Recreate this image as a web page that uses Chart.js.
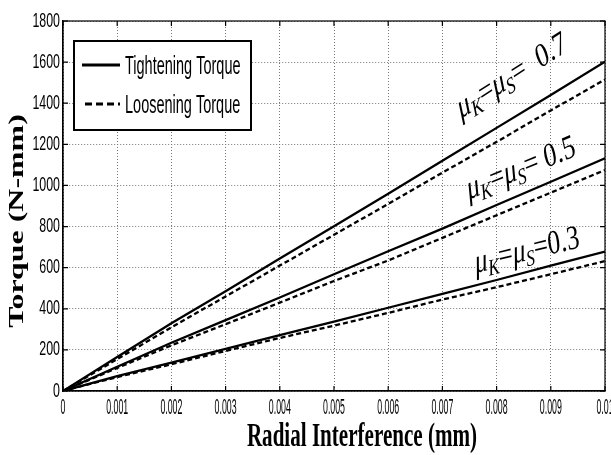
<!DOCTYPE html>
<html>
<head>
<meta charset="utf-8">
<script src="https://cdn.jsdelivr.net/npm/chart.js@4.4.1/dist/chart.umd.min.js"></script>
<style>
  html, body { margin: 0; padding: 0; background: #fff; overflow: hidden; }
  #wrap { width: 611px; height: 455px; }
</style>
</head>
<body>
<div id="wrap"><canvas id="torqueChart"></canvas></div>
<script>
/****************************** Data ********************************/
const interference = [0, 0.001, 0.002, 0.003, 0.004, 0.005, 0.006, 0.007, 0.008, 0.009, 0.010];

const tight07 = [0, 165, 330, 485, 645, 802, 960, 1120, 1280, 1440, 1602];
const loose07 = [0, 155, 310, 460, 610, 760, 910, 1062, 1212, 1365, 1515];
const tight05 = [0, 118, 235, 345, 455, 568, 680, 790, 905, 1018, 1132];
const loose05 = [0, 112, 222, 325, 430, 535, 635, 745, 855, 965, 1075];
const tight03 = [0, 72, 138, 205, 272, 338, 405, 472, 540, 610, 678];
const loose03 = [0, 68, 130, 195, 258, 318, 380, 445, 505, 568, 632];

const legendLabels = ['Tightening Torque', 'Loosening Torque'];
const frictionLabels = ['0.7', '0.5', '0.3'];
const xTitle = 'Radial Interference (mm)';
const yTitle = 'Torque (N-mm)';

const SANS = '"Liberation Sans", Arial, sans-serif';
const SERIF = '"Liberation Serif", "Times New Roman", serif';

function toPoints(ys) {
    return interference.map((x, i) => ({ x: x, y: ys[i] }));
}

function line(label, ys, dashed) {
    return {
        label: label,
        data: toPoints(ys),
        borderColor: '#000',
        borderWidth: 2.3,
        borderDash: dashed ? [5, 3] : [],
        pointRadius: 0,
        fill: false,
        tension: 0
    };
}

// the picture is squeezed sideways, so text is drawn narrow: sx = horizontal squeeze
function squeezedText(ctx, txt, x, y, font, sx, align, baseline) {
    ctx.save();
    ctx.translate(x, y);
    ctx.scale(sx, 1);
    ctx.font = font;
    ctx.fillStyle = '#000';
    ctx.textAlign = align;
    ctx.textBaseline = baseline;
    ctx.fillText(txt, 0, 0);
    ctx.restore();
}

/****************************** Frame, ticks and titles ********************************/
const frame = {
    id: 'frame',
    afterDraw(chart) {
        const ctx = chart.ctx;
        const a = chart.chartArea;
        const xs = chart.scales.x, ys = chart.scales.y;
        ctx.save();
        ctx.strokeStyle = '#000';
        ctx.lineWidth = 1.2;
        ctx.strokeRect(a.left, a.top, a.right - a.left, a.bottom - a.top);
        // inner tick marks on all four sides
        ctx.beginPath();
        xs.ticks.forEach(t => {
            const px = xs.getPixelForValue(t.value);
            ctx.moveTo(px, a.bottom); ctx.lineTo(px, a.bottom - 5);
            ctx.moveTo(px, a.top); ctx.lineTo(px, a.top + 5);
        });
        ys.ticks.forEach(t => {
            const py = ys.getPixelForValue(t.value);
            ctx.moveTo(a.left, py); ctx.lineTo(a.left + 5, py);
            ctx.moveTo(a.right, py); ctx.lineTo(a.right - 5, py);
        });
        ctx.stroke();
        ctx.restore();

        xs.ticks.forEach(t => {
            squeezedText(ctx, t.label, xs.getPixelForValue(t.value), a.bottom + 17,
                '22px ' + SANS, 0.4, 'center', 'middle');
        });
        ys.ticks.forEach(t => {
            squeezedText(ctx, t.label, a.left - 3, ys.getPixelForValue(t.value),
                '20px ' + SANS, 0.62, 'right', 'middle');
        });

        squeezedText(ctx, xTitle, (a.left + a.right) / 2 + 28, a.bottom + 46,
            'bold 34px ' + SERIF, 0.62, 'center', 'middle');
        ctx.save();
        ctx.translate(18, (a.top + a.bottom) / 2 + 15);
        ctx.rotate(-Math.PI / 2);
        ctx.scale(1.45, 0.95);
        ctx.font = 'bold 22px ' + SERIF;
        ctx.textAlign = 'center';
        ctx.textBaseline = 'middle';
        ctx.fillStyle = '#000';
        ctx.fillText(yTitle, 0, 0);
        ctx.restore();
    }
};

/****************************** Legend box ********************************/
const boxLegend = {
    id: 'boxLegend',
    afterDraw(chart) {
        const ctx = chart.ctx;
        const a = chart.chartArea;
        const x0 = a.left + 11, y0 = a.top + 20, w = 177, h = 89;
        ctx.save();
        ctx.fillStyle = '#fff';
        ctx.fillRect(x0, y0, w, h);
        ctx.strokeStyle = '#000';
        ctx.lineWidth = 2;
        ctx.strokeRect(x0, y0, w, h);
        legendLabels.forEach((txt, i) => {
            const y = y0 + 24 + i * 39;
            ctx.beginPath();
            ctx.lineWidth = 3;
            ctx.setLineDash(i === 0 ? [] : [7, 4]);
            ctx.moveTo(x0 + (i === 0 ? 8 : 11), y);
            ctx.lineTo(x0 + 46, y);
            ctx.stroke();
            ctx.setLineDash([]);
            squeezedText(ctx, txt, x0 + 51, y + 2, '25px ' + SANS, 0.58, 'left', 'middle');
        });
        ctx.restore();
    }
};

/****************************** Friction labels ********************************/
const muLabels = {
    id: 'muLabels',
    afterDatasetsDraw(chart, args, opts) {
        const ctx = chart.ctx;
        const xs = chart.scales.x, ys = chart.scales.y;
        opts.items.forEach((it, i) => {
            const parts = [
                { t: '\u03BC', f: 'italic 34px ' + SERIF, dy: 0 },
                { t: 'K', f: 'italic 23px ' + SERIF, dy: 9 },
                { t: '=', f: '34px ' + SERIF, dy: 0 },
                { t: '\u03BC', f: 'italic 34px ' + SERIF, dy: 0 },
                { t: 'S', f: 'italic 23px ' + SERIF, dy: 9 },
                { t: '=' + it.gap, f: '34px ' + SERIF, dy: 0 },
                { t: frictionLabels[i], f: '34px ' + SERIF, dy: 0 }
            ];
            ctx.save();
            let total = 0;
            parts.forEach(p => { ctx.font = p.f; p.w = ctx.measureText(p.t).width; total += p.w; });
            ctx.translate(xs.getPixelForValue(it.x), ys.getPixelForValue(it.y));
            ctx.scale(0.75, 1);
            ctx.rotate(-it.angle * Math.PI / 180);
            ctx.fillStyle = '#000';
            ctx.textBaseline = 'middle';
            let cx = -total / 2;
            parts.forEach(p => {
                ctx.font = p.f;
                ctx.fillText(p.t, cx, p.dy);
                cx += p.w;
            });
            ctx.restore();
        });
    }
};

/****************************** Chart ********************************/
new Chart(document.getElementById('torqueChart'), {
    type: 'line',
    data: {
        datasets: [
            line('Tightening 0.7', tight07, false),
            line('Loosening 0.7', loose07, true),
            line('Tightening 0.5', tight05, false),
            line('Loosening 0.5', loose05, true),
            line('Tightening 0.3', tight03, false),
            line('Loosening 0.3', loose03, true)
        ]
    },
    options: {
        responsive: true,
        maintainAspectRatio: false,
        animation: false,
        layout: { padding: { top: 21, left: 63, right: 6, bottom: 64 } },
        plugins: {
            legend: { display: false },
            tooltip: { enabled: false },
            muLabels: {
                items: [
                    { x: 0.00828, y: 1530, angle: 25.5, gap: '  ' },
                    { x: 0.00845, y: 1080, angle: 17, gap: ' ' },
                    { x: 0.00856, y: 680, angle: 10.5, gap: '' }
                ]
            }
        },
        scales: {
            x: {
                type: 'linear',
                min: 0,
                max: 0.01,
                border: { display: true, color: '#000', width: 1.2, dash: [1, 2] },
                grid: { color: '#777', lineWidth: 1, drawTicks: false },
                ticks: {
                    display: false,
                    stepSize: 0.001,
                    callback: v => (Math.round(v * 1000) / 1000).toString()
                }
            },
            y: {
                min: 0,
                max: 1800,
                border: { display: true, color: '#000', width: 1.2, dash: [1, 2] },
                grid: { color: '#777', lineWidth: 1, drawTicks: false },
                ticks: {
                    display: false,
                    stepSize: 200,
                    callback: v => v.toString()
                }
            }
        }
    },
    plugins: [muLabels, boxLegend, frame]
});
</script>
</body>
</html>
